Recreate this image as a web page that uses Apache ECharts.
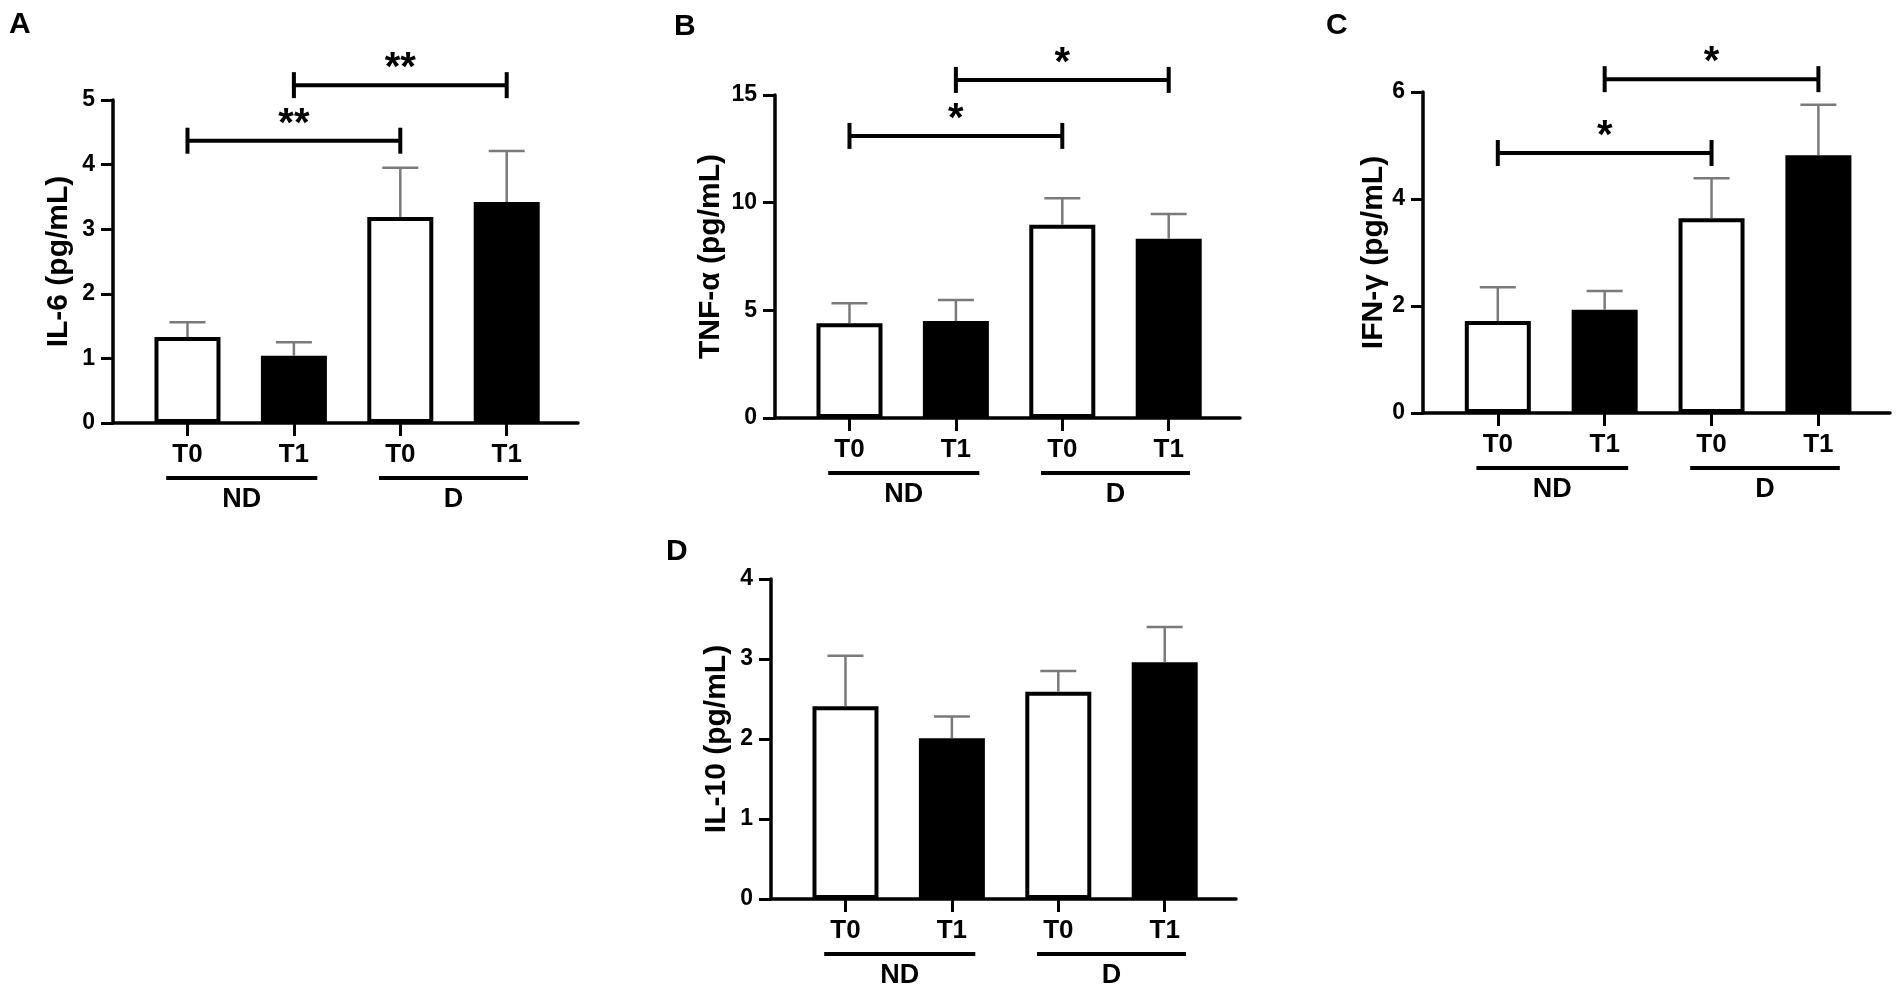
<!DOCTYPE html>
<html>
<head>
<meta charset="utf-8">
<script src="https://cdn.jsdelivr.net/npm/echarts@6/dist/echarts.min.js"></script>
<style>
html,body{margin:0;padding:0;background:#ffffff;}
#chart{width:1901px;height:995px;}
</style>
</head>
<body>
<div id="chart"></div>
<script>
// ---- data ----
const timepoints = ['T0', 'T1', 'T0', 'T1'];
const groupNames = ['ND', 'D'];
const groupSpans = [[-0.2, 1.22], [1.8, 3.2]];

const il6Mean = [1.33, 1.04, 3.19, 3.42];
const il6Sem  = [0.23, 0.21, 0.76, 0.79];
const il6Sig  = [[0, 2, 4.37, '**'], [1, 3, 5.23, '**']];

const tnfMean = [4.40, 4.50, 8.97, 8.33];
const tnfSem  = [0.93, 0.98, 1.23, 1.14];
const tnfSig  = [[0, 2, 13.1, '*'], [1, 3, 15.7, '*']];

const ifnMean = [1.72, 1.93, 3.64, 4.82];
const ifnSem  = [0.63, 0.35, 0.75, 0.94];
const ifnSig  = [[0, 2, 4.86, '*'], [1, 3, 6.24, '*']];

const il10Mean = [2.41, 2.01, 2.59, 2.96];
const il10Sem  = [0.63, 0.27, 0.26, 0.44];
const il10Sig  = [];

const il6Ticks = [0, 5, 1];
const tnfTicks = [0, 15, 5];
const ifnTicks = [0, 6, 2];
const il10Ticks = [0, 4, 1];

// ---- layout / style ----
const FONT = "'Liberation Sans', Arial, Helvetica, sans-serif";
const INK = '#000000';
const ERR = '#7a7a7a';

const panels = [
  {letter: 'A', name: 'IL-6 (pg/mL)', mean: il6Mean, sem: il6Sem, sig: il6Sig, ticks: il6Ticks,
   grid: {left: 113, top: 100, width: 465, height: 323}, letterPos: [9, 10], nameGap: 39},
  {letter: 'B', name: 'TNF-α (pg/mL)', mean: tnfMean, sem: tnfSem, sig: tnfSig, ticks: tnfTicks,
   grid: {left: 775, top: 95, width: 465, height: 323}, letterPos: [674, 12], nameGap: 49},
  {letter: 'C', name: 'IFN-γ (pg/mL)', mean: ifnMean, sem: ifnSem, sig: ifnSig, ticks: ifnTicks,
   grid: {left: 1423, top: 92, width: 467, height: 321}, letterPos: [1326, 11], nameGap: 34},
  {letter: 'D', name: 'IL-10 (pg/mL)', mean: il10Mean, sem: il10Sem, sig: il10Sig, ticks: il10Ticks,
   grid: {left: 771, top: 579, width: 465, height: 320}, letterPos: [666, 537], nameGap: 39}
];

const whiteBar = {color: '#ffffff', borderColor: INK, borderWidth: 4};
const blackBar = {color: INK, borderColor: INK, borderWidth: 0};

function renderError(params, api) {
  const x = api.value(0), m = api.value(1), s = api.value(2);
  const p0 = api.coord([x, m]);
  const p1 = api.coord([x, m + s]);
  const st = {stroke: ERR, lineWidth: 2.5};
  return {type: 'group', children: [
    {type: 'line', shape: {x1: p0[0], y1: p0[1], x2: p1[0], y2: p1[1]}, style: st},
    {type: 'line', shape: {x1: p1[0] - 18, y1: p1[1], x2: p1[0] + 18, y2: p1[1]}, style: st}
  ]};
}

function makeBracket(sig) {
  return function (params, api) {
    const a = api.coord([api.value(0), api.value(2)]);
    const b = api.coord([api.value(1), api.value(2)]);
    const lbl = sig[params.dataIndex][3];
    const st = {stroke: INK, lineWidth: 4};
    return {type: 'group', children: [
      {type: 'line', shape: {x1: a[0], y1: a[1], x2: b[0], y2: b[1]}, style: st},
      {type: 'line', shape: {x1: a[0], y1: a[1] - 13, x2: a[0], y2: a[1] + 13}, style: st},
      {type: 'line', shape: {x1: b[0], y1: b[1] - 13, x2: b[0], y2: b[1] + 13}, style: st},
      {type: 'text', style: {text: lbl, x: (a[0] + b[0]) / 2, y: a[1] - 16,
        align: 'center', verticalAlign: 'middle', font: 'bold 40px ' + FONT, fill: INK}}
    ]};
  };
}

function renderGroup(params, api) {
  const a = api.coord([api.value(0), 0]);
  const b = api.coord([api.value(1), 0]);
  const lbl = groupNames[params.dataIndex];
  return {type: 'group', children: [
    {type: 'line', shape: {x1: a[0], y1: a[1] + 55, x2: b[0], y2: a[1] + 55},
      style: {stroke: INK, lineWidth: 4}},
    {type: 'text', style: {text: lbl, x: (a[0] + b[0]) / 2, y: a[1] + 77,
      align: 'center', verticalAlign: 'middle', font: 'bold 27px ' + FONT, fill: INK}}
  ]};
}

const option = {
  animation: false,
  backgroundColor: '#ffffff',
  title: panels.map(p => ({
    text: p.letter, left: p.letterPos[0], top: p.letterPos[1], padding: 0,
    textStyle: {fontSize: 30, fontWeight: 'bold', color: INK, fontFamily: FONT}
  })),
  grid: panels.map(p => Object.assign({outerBoundsMode: 'none', containLabel: false}, p.grid)),
  xAxis: panels.map((p, i) => ({
    gridIndex: i, type: 'value', min: -0.7, max: 3.67,
    axisLine: {show: true, onZero: false, lineStyle: {color: INK, width: 3.5}},
    axisTick: {show: true, customValues: [0, 1, 2, 3], length: 13, lineStyle: {color: INK, width: 3}},
    axisLabel: {show: true, customValues: [0, 1, 2, 3], formatter: v => timepoints[Math.round(v)],
      margin: 19, fontSize: 26, fontWeight: 'bold', color: INK, fontFamily: FONT},
    splitLine: {show: false}
  })),
  yAxis: panels.map((p, i) => ({
    gridIndex: i, type: 'value', min: p.ticks[0], max: p.ticks[1], interval: p.ticks[2],
    name: p.name, nameLocation: 'middle', nameGap: p.nameGap, nameMoveOverlap: false,
    nameTextStyle: {fontSize: 30, fontWeight: 'bold', color: INK, fontFamily: FONT},
    axisLine: {show: true, onZero: false, lineStyle: {color: INK, width: 3.5}},
    axisTick: {show: true, length: 12, lineStyle: {color: INK, width: 3}},
    axisLabel: {margin: 18, fontSize: 23, fontWeight: 'bold', color: INK, fontFamily: FONT},
    splitLine: {show: false}
  })),
  series: []
};

panels.forEach((p, i) => {
  option.series.push({
    type: 'bar', xAxisIndex: i, yAxisIndex: i, barWidth: 66, z: 2,
    data: p.mean.map((v, k) => ({value: [k, v], itemStyle: k % 2 === 0 ? whiteBar : blackBar}))
  });
  option.series.push({
    type: 'custom', xAxisIndex: i, yAxisIndex: i, z: 3, renderItem: renderError,
    data: p.mean.map((v, k) => [k, v, p.sem[k]])
  });
  if (p.sig.length) {
    option.series.push({
      type: 'custom', xAxisIndex: i, yAxisIndex: i, z: 4, renderItem: makeBracket(p.sig),
      data: p.sig.map(s => [s[0], s[1], s[2]])
    });
  }
  option.series.push({
    type: 'custom', xAxisIndex: i, yAxisIndex: i, z: 4, renderItem: renderGroup,
    data: groupSpans.map(g => [g[0], g[1]])
  });
});

const chart = echarts.init(document.getElementById('chart'));
chart.setOption(option);
</script>
</body>
</html>
